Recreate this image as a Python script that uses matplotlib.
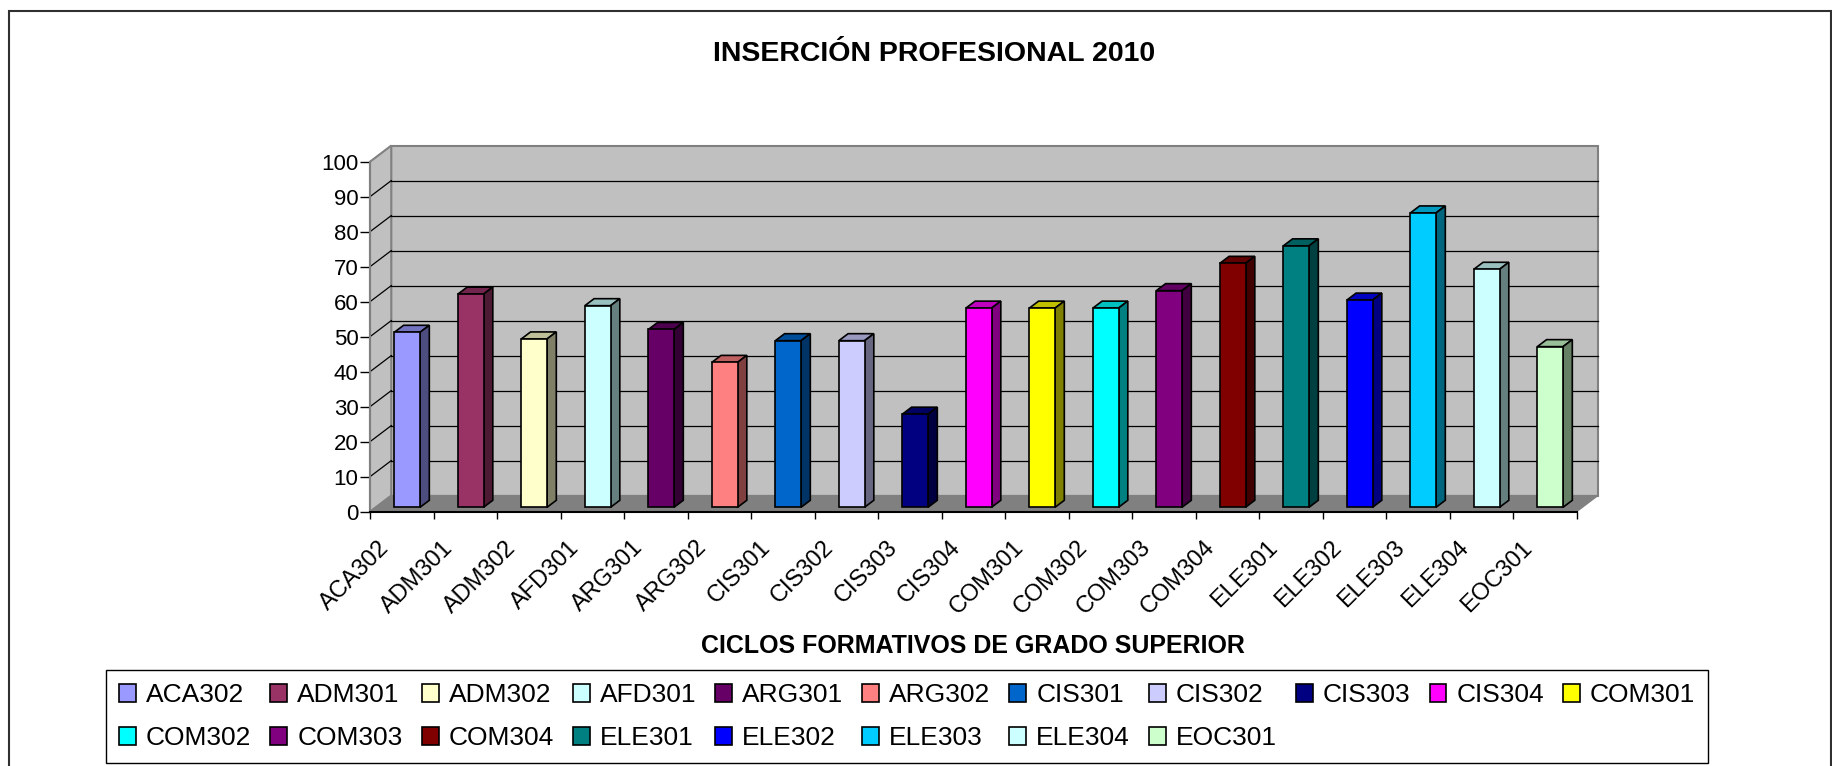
import numpy as np
import matplotlib.pyplot as plt
import matplotlib.colors as mcolors
from matplotlib.patches import Polygon, Rectangle
from matplotlib.transforms import ScaledTranslation

plt.rcParams["font.family"] = ["Liberation Sans", "DejaVu Sans"]

# -----------------------------------------------------------------------------
# data
# -----------------------------------------------------------------------------
categories = [
    "ACA302", "ADM301", "ADM302", "AFD301", "ARG301", "ARG302", "CIS301",
    "CIS302", "CIS303", "CIS304", "COM301", "COM302", "COM303", "COM304",
    "ELE301", "ELE302", "ELE303", "ELE304", "EOC301",
]
values = [
    50.0, 60.9, 48.1, 57.6, 50.8, 41.4, 47.6,
    47.6, 26.6, 56.9, 56.9, 56.9, 61.9, 69.7,
    74.7, 59.2, 84.1, 68.0, 45.9,
]
bar_colors = [
    "#9999FF", "#993366", "#FFFFCC", "#CCFFFF", "#660066", "#FF8080", "#0066CC",
    "#CCCCFF", "#000080", "#FF00FF", "#FFFF00", "#00FFFF", "#800080", "#800000",
    "#008080", "#0000FF", "#00CCFF", "#CCFFFF", "#CCFFCC",
]
y_ticks = list(range(0, 101, 10))

TITLE = "INSERCIÓN PROFESIONAL 2010"
XLABEL = "CICLOS FORMATIVOS DE GRADO SUPERIOR"

# -----------------------------------------------------------------------------
# layout (pixels of the 1832x766 output)
# -----------------------------------------------------------------------------
W, H, DPI = 1832, 766, 100
X0_PX = 370.0        # front left corner of the floor
FLOOR_PX = 511.7     # y of value 0 on the front edge
CAT_PX = 63.5        # one category in px
UNIT_PX = 3.5        # one percent in px
RIGHT_PX = 1610.0
TOP_PX = 135.0

# oblique 3-D offsets, in data units
WALL_DX, WALL_DY = 0.335, 4.6    # back wall
BAR_DX, BAR_DY = 0.146, 2.0      # bar depth
BAR_LEFT, BAR_W = 0.383, 0.405   # front face of each bar
BAR_BASE = 1.26                  # front face sits a bit behind the front edge

LEGEND_COLS = 11

n = len(categories)
y_max = y_ticks[-1]


def shade(color, k):
    r, g, b = mcolors.to_rgb(color)
    return (r * k, g * k, b * k)


fig = plt.figure(figsize=(W / DPI, H / DPI), dpi=DPI)
ax = fig.add_axes([
    X0_PX / W,
    1 - FLOOR_PX / H,
    (RIGHT_PX - X0_PX) / W,
    (FLOOR_PX - TOP_PX) / H,
])
ax.set_xlim(0, (RIGHT_PX - X0_PX) / CAT_PX)
ax.set_ylim(0, (FLOOR_PX - TOP_PX) / UNIT_PX)
ax.patch.set_visible(False)

# walls and floor
wall_c = "#C0C0C0"
edge_c = "#808080"
back = Polygon([(WALL_DX, WALL_DY), (n + WALL_DX, WALL_DY),
                (n + WALL_DX, y_max + WALL_DY), (WALL_DX, y_max + WALL_DY)],
               closed=True, fc=wall_c, ec=edge_c, lw=1.5, zorder=1)
side = Polygon([(0, 0), (WALL_DX, WALL_DY), (WALL_DX, y_max + WALL_DY), (0, y_max)],
               closed=True, fc=wall_c, ec=edge_c, lw=1.5, zorder=1)
floor = Polygon([(0, 0), (n, 0), (n + WALL_DX, WALL_DY), (WALL_DX, WALL_DY)],
                closed=True, fc="#808080", ec=edge_c, lw=1.0, zorder=1)
for p in (back, side, floor):
    p.set_clip_on(False)
    ax.add_patch(p)

# gridlines on back and side walls
for v in y_ticks[1:-1]:
    ax.plot([WALL_DX, n + WALL_DX], [v + WALL_DY, v + WALL_DY],
            color="black", lw=0.9, zorder=2, clip_on=False)
    ax.plot([0, WALL_DX], [v, v + WALL_DY],
            color="black", lw=0.9, zorder=2, clip_on=False)

# bars (front face through ax.bar, top and side faces as polygons)
handles = []
for i, (cat, val, col) in enumerate(zip(categories, values, bar_colors)):
    x0 = i + BAR_LEFT
    b = ax.bar(x0, val, width=BAR_W, bottom=BAR_BASE, align="edge",
               color=col, edgecolor="black", linewidth=1.2, zorder=4,
               label=cat)
    handles.append(b[0])
    top_y = BAR_BASE + val
    top = Polygon([(x0, top_y), (x0 + BAR_W, top_y),
                   (x0 + BAR_W + BAR_DX, top_y + BAR_DY), (x0 + BAR_DX, top_y + BAR_DY)],
                  closed=True, fc=shade(col, 0.75), ec="black", lw=1.2, zorder=3)
    right = Polygon([(x0 + BAR_W, BAR_BASE), (x0 + BAR_W + BAR_DX, BAR_BASE + BAR_DY),
                     (x0 + BAR_W + BAR_DX, top_y + BAR_DY), (x0 + BAR_W, top_y)],
                    closed=True, fc=shade(col, 0.5), ec="black", lw=1.2, zorder=3)
    ax.add_patch(top)
    ax.add_patch(right)

# axes: front value axis and category axis
for s in ("top", "right"):
    ax.spines[s].set_visible(False)
ax.spines["left"].set_bounds(0, y_max)
ax.spines["left"].set_color(edge_c)
ax.spines["left"].set_linewidth(1.5)
ax.spines["left"].set_zorder(5)
ax.spines["bottom"].set_bounds(0, n)
ax.spines["bottom"].set_color("black")
ax.spines["bottom"].set_linewidth(1.5)
ax.spines["bottom"].set_zorder(5)

ax.set_yticks(y_ticks)
ax.set_yticklabels([str(t) for t in y_ticks])
ax.tick_params(axis="y", direction="out", length=7.2, width=1.0, color="black",
               pad=1, labelsize=16)
ax.set_xticks(np.arange(n + 1))
ax.set_xticklabels([])
ax.tick_params(axis="x", direction="out", length=5, width=1.0, color="black")

# rotated category labels
lab_tr = ax.transData + ScaledTranslation(-16 / DPI, -32.6 / DPI, fig.dpi_scale_trans)
for i, cat in enumerate(categories):
    ax.text(i + 0.5, 0, cat, transform=lab_tr, rotation=45, rotation_mode="anchor",
            ha="right", va="center", fontsize=17, clip_on=False)

# titles
fig.text(934 / W, 1 - 60.7 / H, TITLE, ha="center", va="baseline",
         fontsize=20.5, fontweight="bold")
fig.text(973 / W, 1 - 653.3 / H, XLABEL, ha="center", va="baseline",
         fontsize=18, fontweight="bold")

# legend: matplotlib fills column by column, so reorder to read row by row
order = []
for j in range(LEGEND_COLS):
    order.append(j)
    if j + LEGEND_COLS < n:
        order.append(j + LEGEND_COLS)
leg = fig.legend([handles[k] for k in order], [categories[k] for k in order],
                 ncol=LEGEND_COLS, loc="upper left",
                 bbox_to_anchor=(106 / W, 1 - 670 / H), fontsize=19,
                 frameon=True, fancybox=False, edgecolor="black", framealpha=1,
                 borderpad=0.5, handlelength=0.64, handleheight=0.64,
                 handletextpad=0.38, columnspacing=0.72, labelspacing=0.72,
                 borderaxespad=0)
leg.get_frame().set_linewidth(1.0)

# outer chart border
fig.add_artist(Rectangle((9 / W, -0.05), (1831 - 9) / W, 1.05 - 11 / H,
                         transform=fig.transFigure, fill=False,
                         ec="#303030", lw=1.5))

fig.savefig("out.png", dpi=DPI)
